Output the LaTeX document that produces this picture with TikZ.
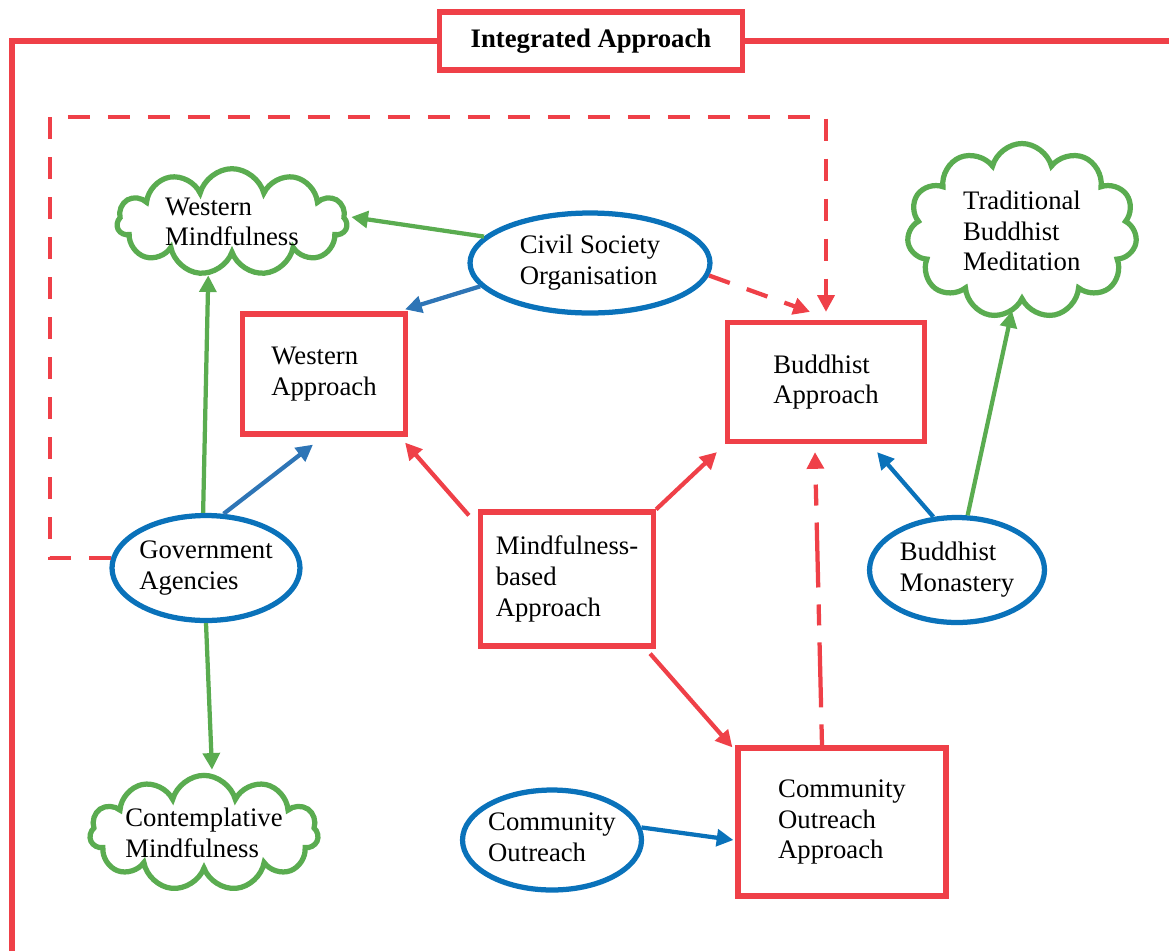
\documentclass[tikz,border=0pt]{standalone}
\usepackage{fontspec}
\setmainfont{Liberation Serif}
\usepackage{tikz}
\usetikzlibrary{arrows.meta,positioning,calc,shapes.geometric,shapes.symbols}

\definecolor{mred}{RGB}{239,64,72}
\definecolor{mgreen}{RGB}{90,172,80}
\definecolor{mblue}{RGB}{10,114,186}
\definecolor{lblue}{RGB}{46,117,182}

% text that does not widen an ellipse
\newcommand{\actortext}[1]{\makebox[0pt]{\begin{tabular}{@{}l@{}}#1\end{tabular}}}

\begin{document}
\begin{tikzpicture}[x=0.02cm, y=-0.02cm,
    every node/.style={font=\fontsize{15.2}{17.5}\selectfont, align=left, inner sep=0pt},
    approach/.style={draw=mred, line width=0.105cm, rectangle},
    actor/.style={draw=mblue, line width=0.105cm, ellipse},
    practice/.style={draw=mgreen, line width=0.105cm, cloud, cloud puffs=11, cloud ignores aspect},
    link/.style={line width=0.085cm, -{Triangle[length=9.5pt,width=9.5pt]}},
    dlink/.style={link, dash pattern=on 0.44cm off 0.36cm},
    longdlink/.style={link, dash pattern=on 0.42cm off 0.34cm on 1.3cm off 0.34cm}]
    \useasboundingbox (0,0) rectangle (1169,951);

    % Frame of the integrated approach
    \node[approach, minimum width=6.05cm, minimum height=1.16cm, font=\fontsize{15.2}{17}\selectfont\bfseries, align=center] (title) at (591,41) {Integrated Approach};
    \coordinate (framebottom) at (12,951);
    \coordinate (frameright) at (1169,43);
    \draw[mred, line width=0.105cm] (framebottom) |- (title.west);
    \draw[mred, line width=0.105cm] (title.east) -- (title.east -| frameright);

    % Practices
    \node[practice, minimum width=4.6cm, minimum height=2.0cm] (wm) at (232,222) {Western\\Mindfulness};
    \node[practice, minimum width=4.6cm, minimum height=3.5cm] (tbm) at (1022,231) {Traditional\\Buddhist\\Meditation};
    \node[practice, minimum width=4.55cm, minimum height=2.05cm] (cm) at (204,833) {Contemplative\\Mindfulness};

    % Approaches
    \node[approach, minimum width=3.26cm, minimum height=2.4cm] (wa) at (324,374) {Western\\Approach};
    \node[approach, minimum width=3.94cm, minimum height=2.38cm] (ba) at (826,382) {Buddhist\\Approach};
    \node[approach, minimum width=3.46cm, minimum height=2.68cm] (mba) at (567,579) {Mindfulness-\\based\\Approach};
    \node[approach, minimum width=4.16cm, minimum height=2.96cm] (coa) at (842,822) {Community\\Outreach\\Approach};

    % Actors
    \node[actor, minimum width=4.8cm, minimum height=2.0cm] (cso) at (590,263) {\actortext{Civil Society\\Organisation}};
    \node[actor, minimum width=3.76cm, minimum height=2.1cm] (ga) at (206,568) {\actortext{Government\\Agencies}};
    \node[actor, minimum width=3.5cm, minimum height=2.1cm] (bm) at (957,570) {\actortext{Buddhist\\Monastery}};
    \node[actor, minimum width=3.58cm, minimum height=2.0cm] (co) at (552,840) {\actortext{Community\\Outreach}};

    % Dashed loop from the agencies
    \coordinate (looptop) at (50,117);
    \draw[dlink, mred, shorten >=0.16cm] (ga.174) -| (looptop) -| (ba.north);

    % Links
    \draw[link, mgreen] (cso.166) -- ($(wm.east)+(2,-5)$);
    \draw[link, lblue] (cso.192) -- ($(wa.north east)+(-3,-2)$);
    \draw[dlink, mred] (cso.-6) -- ($(ba.north)+(-16,-8)$);
    \draw[link, mgreen] (ga.93) -- (wm.246);
    \draw[link, lblue] (ga.72) -- ($(wa.south)+(-11,8)$);
    \draw[link, mgreen] (ga.south) -- ($(cm.north)+(8,-3)$);
    \draw[link, mred] ($(mba.north west)+(-9,6)$) -- ($(wa.south east)+(-3,6)$);
    \draw[link, mred] (mba.north east) -- ($(ba.south west)+(-8,8)$);
    \draw[link, mred] ($(mba.south east)+(-6,5)$) -- ($(coa.north west)+(-3,2)$);
    \draw[longdlink, mred] ($(coa.north)+(-20,0)$) -- ($(ba.south)+(-11,8)$);
    \draw[link, mblue] (bm.114) -- ($(ba.south east)+(-50,8)$);
    \draw[link, mgreen] (bm.79) -- ($(tbm.south)+(-10,7)$);
    \draw[link, mblue] (co.8) -- ($(coa.west |- co.east)+(-2,0)$);
\end{tikzpicture}
\end{document}
